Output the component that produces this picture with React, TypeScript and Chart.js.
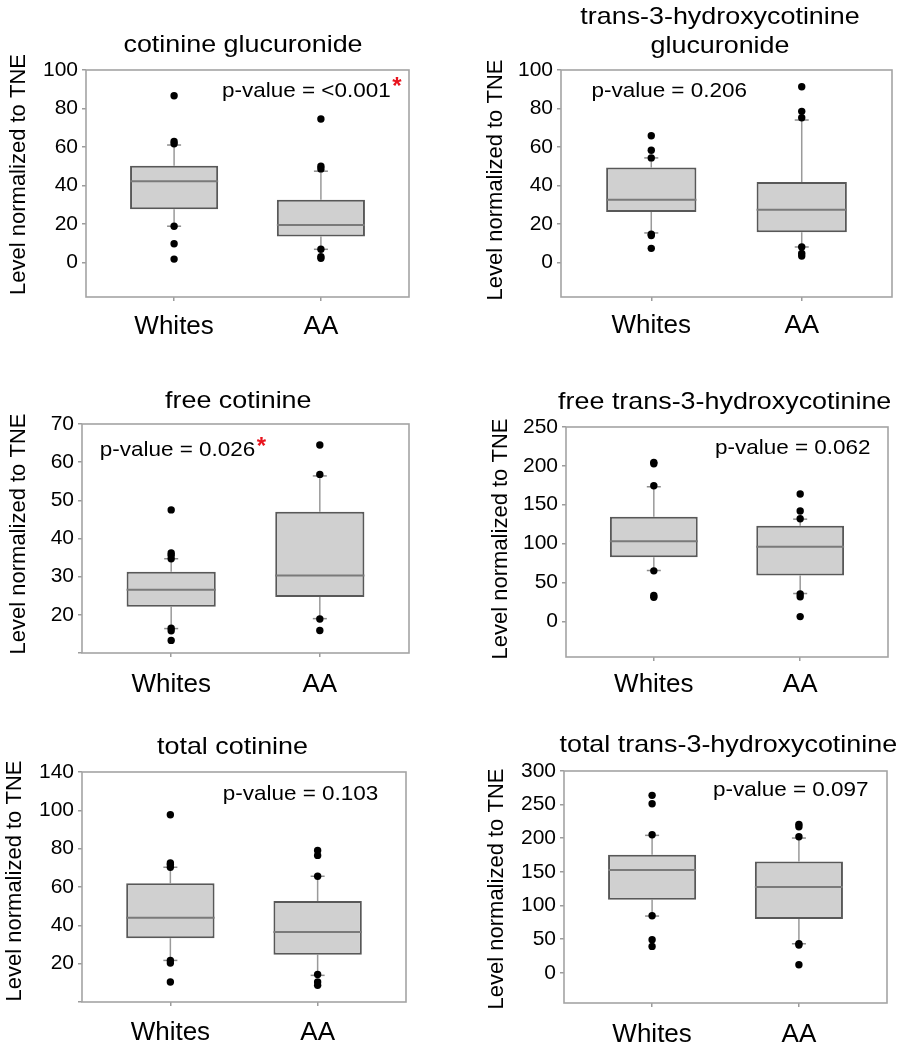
import React, { useEffect, useRef } from 'react';
import { Chart, registerables } from 'chart.js';

Chart.register(...registerables);

const FONT = '"Liberation Sans", Arial, Helvetica, sans-serif';

// ---------------- data ----------------
const categories = ['Whites', 'AA'];

const titles = [
  ['cotinine glucuronide'],
  ['trans-3-hydroxycotinine', 'glucuronide'],
  ['free cotinine'],
  ['free trans-3-hydroxycotinine'],
  ['total cotinine'],
  ['total trans-3-hydroxycotinine'],
];

const pValueLabels = [
  'p-value = <0.001',
  'p-value = 0.206',
  'p-value = 0.026',
  'p-value = 0.062',
  'p-value = 0.103',
  'p-value = 0.097',
];
const significant = [true, false, true, false, false, false];

const yAxisTitle = 'Level normalized to TNE';

const yMin = [-18, -18, 10, -46, 0, -45];
const yMax = [100, 100, 70, 250, 120, 300];

const yTickValues = [
  [0, 20, 40, 60, 80, 100],
  [0, 20, 40, 60, 80, 100],
  [10, 20, 30, 40, 50, 60, 70],
  [0, 50, 100, 150, 200, 250],
  [0, 20, 40, 60, 80, 100, 120],
  [0, 50, 100, 150, 200, 250, 300],
];
const yTickLabels = [
  ['0', '20', '40', '60', '80', '100'],
  ['0', '20', '40', '60', '80', '100'],
  ['', '20', '30', '40', '50', '60', '70'],
  ['0', '50', '100', '150', '200', '250'],
  ['', '20', '40', '60', '80', '100', '140'],
  ['0', '50', '100', '150', '200', '250', '300'],
];

// box statistics per panel: [Whites, AA]
const q1 = [
  [27.6, 13.5],
  [26.2, 15.6],
  [22.1, 24.7],
  [82.5, 58.8],
  [33.2, 24.7],
  [108.6, 79.8],
];
const median = [
  [42.2, 19.4],
  [32.5, 27.3],
  [26.6, 30.3],
  [103.1, 95.8],
  [44.0, 36.5],
  [152.7, 127.4],
];
const q3 = [
  [50.2, 32.5],
  [49.3, 41.8],
  [31.3, 47.0],
  [134.5, 122.9],
  [61.9, 52.7],
  [175.5, 165.6],
];
const whiskerLow = [
  [18.8, 6.8],
  [15.3, 8.0],
  [16.4, 19.0],
  [65.3, 35.7],
  [21.7, 13.9],
  [84.3, 43.1],
];
const whiskerHigh = [
  [61.0, 47.4],
  [54.3, 74.0],
  [34.7, 56.4],
  [173.1, 131.4],
  [70.3, 65.6],
  [204.3, 200.3],
];
const outliersWhites = [
  [86.6, 62.8, 61.6, 18.8, 9.7, 1.7],
  [65.8, 58.3, 54.3, 14.6, 14.0, 7.3],
  [47.5, 36.2, 35.6, 34.7, 16.5, 15.8, 13.3],
  [204.5, 202.7, 174.4, 64.9, 33.1, 30.9],
  [97.7, 72.5, 71.7, 70.3, 21.7, 20.3, 10.4],
  [263.8, 251.4, 205.3, 84.8, 49.1, 39.2],
];
const outliersAA = [
  [74.5, 50.0, 48.6, 6.8, 3.0, 2.1],
  [91.3, 78.5, 75.2, 8.0, 4.7, 3.3],
  [64.5, 56.8, 18.9, 15.9],
  [163.7, 141.8, 131.9, 35.2, 31.4, 6.0],
  [79.1, 76.5, 65.6, 14.4, 10.4, 8.7],
  [220.7, 217.2, 202.3, 43.1, 41.2, 11.9],
];

// ---------------- layout (page px) ----------------
type Geom = {
  x: number; y: number; w: number; h: number;
  area: [number, number, number, number];
  catGap: number;
  title: [number, number];
  titleLead: number;
  ylab: [number, number];
  pv: [number, number];
};

const PANELS: Geom[] = [
  { x: 0, y: 0, w: 450, h: 350, area: [86, 70, 409, 297], catGap: 28.8, title: [243, 51.7], titleLead: 0, ylab: [18.5, 174.5], pv: [306.3, 96.7] },
  { x: 450, y: 0, w: 453, h: 350, area: [561, 70, 892, 297], catGap: 28.3, title: [270, 24.3], titleLead: 28.5, ylab: [45.7, 180], pv: [219.2, 96.7] },
  { x: 0, y: 350, w: 450, h: 360, area: [82, 424, 409, 653], catGap: 31.3, title: [238.3, 58.3], titleLead: 0, ylab: [18.5, 184], pv: [177.5, 106] },
  { x: 450, y: 350, w: 453, h: 360, area: [566, 427, 888, 657], catGap: 26.7, title: [274.7, 59.3], titleLead: 0, ylab: [50.5, 189], pv: [342.8, 103.5] },
  { x: 0, y: 710, w: 450, h: 340, area: [82, 772, 406, 1002], catGap: 29.4, title: [232.5, 44.3], titleLead: 0, ylab: [15, 171], pv: [300.5, 90.3] },
  { x: 450, y: 710, w: 453, h: 340, area: [564, 771, 887, 1003], catGap: 30.9, title: [278.3, 41.7], titleLead: 0, ylab: [47, 179], pv: [340.8, 85.5] },
];

const Y_AXIS_W = 60;
const X_AXIS_H = 45;
const TICK_LEN = 4;
const CAT_FONT = 26;
const BOX_FRACTION = 0.6;
const HALF_BOX = BOX_FRACTION / 2;
const TEXT = '#000';

function drawScaledText(ctx: CanvasRenderingContext2D, text: string, x: number, y: number, font: string, color: string, align: CanvasTextAlign, sx: number) {
  ctx.save();
  ctx.font = font;
  ctx.fillStyle = color;
  ctx.textAlign = align;
  ctx.textBaseline = 'alphabetic';
  ctx.translate(x, y);
  ctx.scale(sx, 1);
  ctx.fillText(text, 0, 0);
  ctx.restore();
}

function Panel({ p }: { p: number }) {
  const ref = useRef<HTMLCanvasElement>(null);
  const g = PANELS[p];

  useEffect(() => {
    const canvas = ref.current;
    if (!canvas) return;
    const [L, T, R, B] = g.area;
    const padLeft = L - g.x - Y_AXIS_W;
    const padTop = T - g.y;
    const padRight = g.x + g.w - R;
    const padBottom = g.y + g.h - B - X_AXIS_H;

    const xs = [1, 2];
    const boxData = xs.map((x, k) => ({ x, y: [q1[p][k], q3[p][k]] }));
    const whiskerData: any[] = [];
    const medianData: any[] = [];
    const capData: any[] = [];
    xs.forEach((x, k) => {
      whiskerData.push({ x, y: q3[p][k] }, { x, y: whiskerHigh[p][k] }, { x, y: null }, { x, y: q1[p][k] }, { x, y: whiskerLow[p][k] }, { x, y: null });
      medianData.push({ x: x - HALF_BOX, y: median[p][k] }, { x: x + HALF_BOX, y: median[p][k] }, { x, y: null });
      capData.push({ x, y: whiskerLow[p][k] }, { x, y: whiskerHigh[p][k] });
    });
    const outlierData = [
      ...outliersWhites[p].map((y) => ({ x: 1, y })),
      ...outliersAA[p].map((y) => ({ x: 2, y })),
    ];

    const textPlugin = {
      id: 'panelText' + p,
      beforeDatasetsDraw(chart: any) {
        const { ctx, chartArea } = chart;
        ctx.save();
        ctx.strokeStyle = '#a4a4a4';
        ctx.lineWidth = 1.6;
        ctx.strokeRect(chartArea.left, chartArea.top, chartArea.right - chartArea.left, chartArea.bottom - chartArea.top);
        ctx.restore();
      },
      afterDraw(chart: any) {
        const ctx: CanvasRenderingContext2D = chart.ctx;
        const tl = titles[p];
        tl.forEach((line, i) => {
          drawScaledText(ctx, line, g.title[0], g.title[1] + i * g.titleLead, `24px ${FONT}`, TEXT, 'center', 1.12);
        });
        ctx.save();
        ctx.font = `22px ${FONT}`;
        ctx.fillStyle = TEXT;
        ctx.textAlign = 'center';
        ctx.textBaseline = 'middle';
        ctx.translate(g.ylab[0], g.ylab[1]);
        ctx.rotate(-Math.PI / 2);
        ctx.fillText(yAxisTitle, 0, 0);
        ctx.restore();
        const pvFont = `21px ${FONT}`;
        const sx = 1.07;
        ctx.save();
        ctx.font = pvFont;
        const w = ctx.measureText(pValueLabels[p]).width * sx;
        ctx.restore();
        const start = g.pv[0] - w / 2;
        drawScaledText(ctx, pValueLabels[p], start, g.pv[1], pvFont, TEXT, 'left', sx);
        if (significant[p]) {
          drawScaledText(ctx, '*', start + w + 1.5, g.pv[1] - 2.5, `bold 24px ${FONT}`, '#e8141e', 'left', 1);
        }
      },
    };

    const chart = new Chart(canvas, {
      type: 'bar',
      data: {
        datasets: [
          {
            type: 'line',
            data: outlierData,
            showLine: false,
            pointRadius: 3.7,
            pointBackgroundColor: '#000',
            pointBorderColor: '#000',
            pointBorderWidth: 0,
            order: 0,
          } as any,
          {
            type: 'line',
            data: capData,
            showLine: false,
            pointStyle: 'line',
            pointRadius: 7,
            pointBorderColor: '#8c8c8c',
            pointBorderWidth: 1.5,
            order: 1,
          } as any,
          {
            type: 'line',
            data: medianData,
            borderColor: '#7a7a7a',
            borderWidth: 2,
            pointRadius: 0,
            spanGaps: false,
            order: 2,
          } as any,
          {
            type: 'bar',
            data: boxData,
            backgroundColor: '#d0d0d0',
            borderColor: '#585858',
            borderWidth: 2,
            borderSkipped: false,
            barPercentage: BOX_FRACTION,
            categoryPercentage: 1,
            order: 3,
          } as any,
          {
            type: 'line',
            data: whiskerData,
            borderColor: '#9a9a9a',
            borderWidth: 1.5,
            pointRadius: 0,
            spanGaps: false,
            order: 4,
          } as any,
        ],
      },
      options: {
        responsive: false,
        animation: false,
        devicePixelRatio: 1,
        events: [],
        layout: { padding: { left: padLeft, top: padTop, right: padRight, bottom: padBottom } },
        plugins: { legend: { display: false }, tooltip: { enabled: false }, title: { display: false } },
        scales: {
          x: {
            type: 'linear',
            min: 0.4,
            max: 2.6,
            offset: false,
            afterBuildTicks: (s: any) => {
              s.ticks = xs.map((v) => ({ value: v }));
            },
            afterFit: (s: any) => {
              s.height = X_AXIS_H;
            },
            ticks: {
              autoSkip: false,
              maxRotation: 0,
              padding: g.catGap - TICK_LEN - CAT_FONT / 2 + 1,
              color: TEXT,
              font: { family: FONT, size: CAT_FONT, lineHeight: 1 },
              callback: (v: any) => categories[Number(v) - 1] ?? '',
            },
            grid: { offset: false, drawOnChartArea: false, drawTicks: true, tickLength: TICK_LEN, color: '#9c9c9c', lineWidth: 1.5 },
            border: { display: false },
          },
          y: {
            type: 'linear',
            min: yMin[p],
            max: yMax[p],
            afterBuildTicks: (s: any) => {
              s.ticks = yTickValues[p].map((v) => ({ value: v }));
            },
            afterFit: (s: any) => {
              s.width = Y_AXIS_W;
            },
            ticks: {
              autoSkip: false,
              padding: 4,
              color: TEXT,
              font: { family: FONT, size: 21, lineHeight: 1 },
              callback: (v: any) => {
                const k = yTickValues[p].indexOf(Number(v));
                return k >= 0 ? yTickLabels[p][k] : '';
              },
            },
            grid: { drawOnChartArea: false, drawTicks: true, tickLength: TICK_LEN, color: '#9c9c9c', lineWidth: 1.5 },
            border: { display: false },
          },
        },
      } as any,
      plugins: [textPlugin],
    });
    return () => chart.destroy();
  }, [p]);

  return (
    <canvas
      ref={ref}
      width={g.w}
      height={g.h}
      style={{ position: 'absolute', left: g.x, top: g.y, width: g.w, height: g.h }}
    />
  );
}

export default function App() {
  return (
    <div style={{ position: 'absolute', left: 0, top: 0, width: 903, height: 1050, background: '#fff' }}>
      {PANELS.map((_, i) => (
        <Panel key={i} p={i} />
      ))}
    </div>
  );
}
